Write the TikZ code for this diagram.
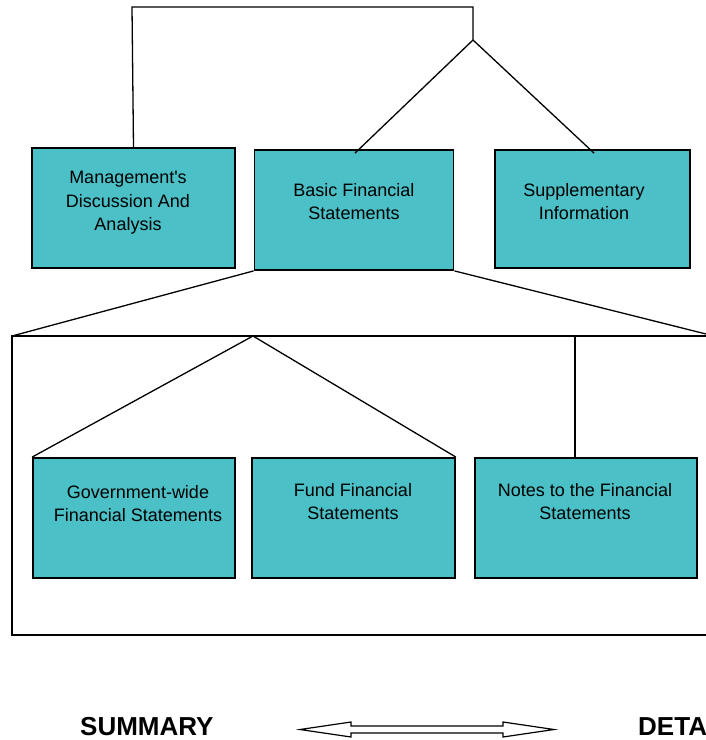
\documentclass[tikz,border=0pt]{standalone}
\usepackage{fontspec}
\setmainfont{Liberation Sans}[Ligatures=TeXOff]
\definecolor{boxteal}{RGB}{75,192,199}
\begin{document}
\begin{tikzpicture}[x=1pt,y=-1pt,
  box/.style={draw=black,line width=1.8pt,fill=boxteal,rectangle,inner sep=0pt},
  lbl/.style={align=center,font=\fontsize{18}{23.5}\selectfont,inner sep=0pt,anchor=north},
  conn/.style={draw=black,line width=1.3pt},
  frame/.style={draw=black,line width=1.6pt},
  big/.style={font=\bfseries\fontsize{26}{28}\selectfont,inner sep=0pt}]
\useasboundingbox (0,0) rectangle (706,740);
% top row boxes
\node[box,minimum width=203pt,minimum height=120pt] (mda) at (133.5,208) {};
\node[box,minimum width=199pt,minimum height=120pt] (basic) at (354,210) {};
\node[box,minimum width=195pt,minimum height=118pt] (supp) at (592.5,209) {};
\node[lbl] (mdat) at (128,171) {Management's\\Discussion And\\Analysis};
\node[lbl] (basict) at (354,183) {Basic Financial\\Statements};
\node[lbl] (suppt) at (584,183) {Supplementary\\Information};
% top connectors
\coordinate (tl) at (132,7);
\coordinate (tr) at (473,7);
\coordinate (fork) at (473,40);
\draw[conn] (mda.north) -- (tl) -- (tr) -- (fork);
\draw[conn] (fork) -- ([xshift=1pt,yshift=-4pt]basic.north);
\draw[conn] (fork) -- ([xshift=1.5pt,yshift=-4pt]supp.north);
% big frame
\coordinate (fnw) at (12,336);
\coordinate (fne) at (714,336);
\coordinate (fse) at (714,635);
\coordinate (fsw) at (12,635);
\draw[frame] (fnw) -- (fne) -- (fse) -- (fsw) -- cycle;
\draw[conn] (basic.south west) -- (fnw);
\draw[conn] (basic.south east) -- (fne);
% bottom row boxes
\node[box,minimum width=202pt,minimum height=120pt] (gov) at (134,518) {};
\node[box,minimum width=203pt,minimum height=120pt] (fund) at (353.5,518) {};
\node[box,minimum width=222pt,minimum height=120pt] (notes) at (586,518) {};
\node[lbl] (govt) at (138,485) {Government-wide\\Financial Statements};
\node[lbl] (fundt) at (353,483) {Fund Financial\\Statements};
\node[lbl] (notest) at (585,483) {Notes to the Financial\\Statements};
\coordinate (apex) at (253,336);
\coordinate (nt) at (575,336);
\draw[conn] (apex) -- (gov.north west);
\draw[conn] (apex) -- (fund.north east);
\draw[conn] (nt) -- (nt |- notes.north);
% bottom legend
\node[big,anchor=west] (summ) at (80,726.5) {SUMMARY};
\node[big,anchor=west] (det) at (638,726.5) {DETAIL};
\draw[line width=1.2pt,fill=white] (300,729.5) -- (351,722) -- (351,726) -- (503,726) -- (503,722) -- (554,729.5)
  -- (503,737) -- (503,733) -- (351,733) -- (351,737) -- cycle;
\end{tikzpicture}
\end{document}
